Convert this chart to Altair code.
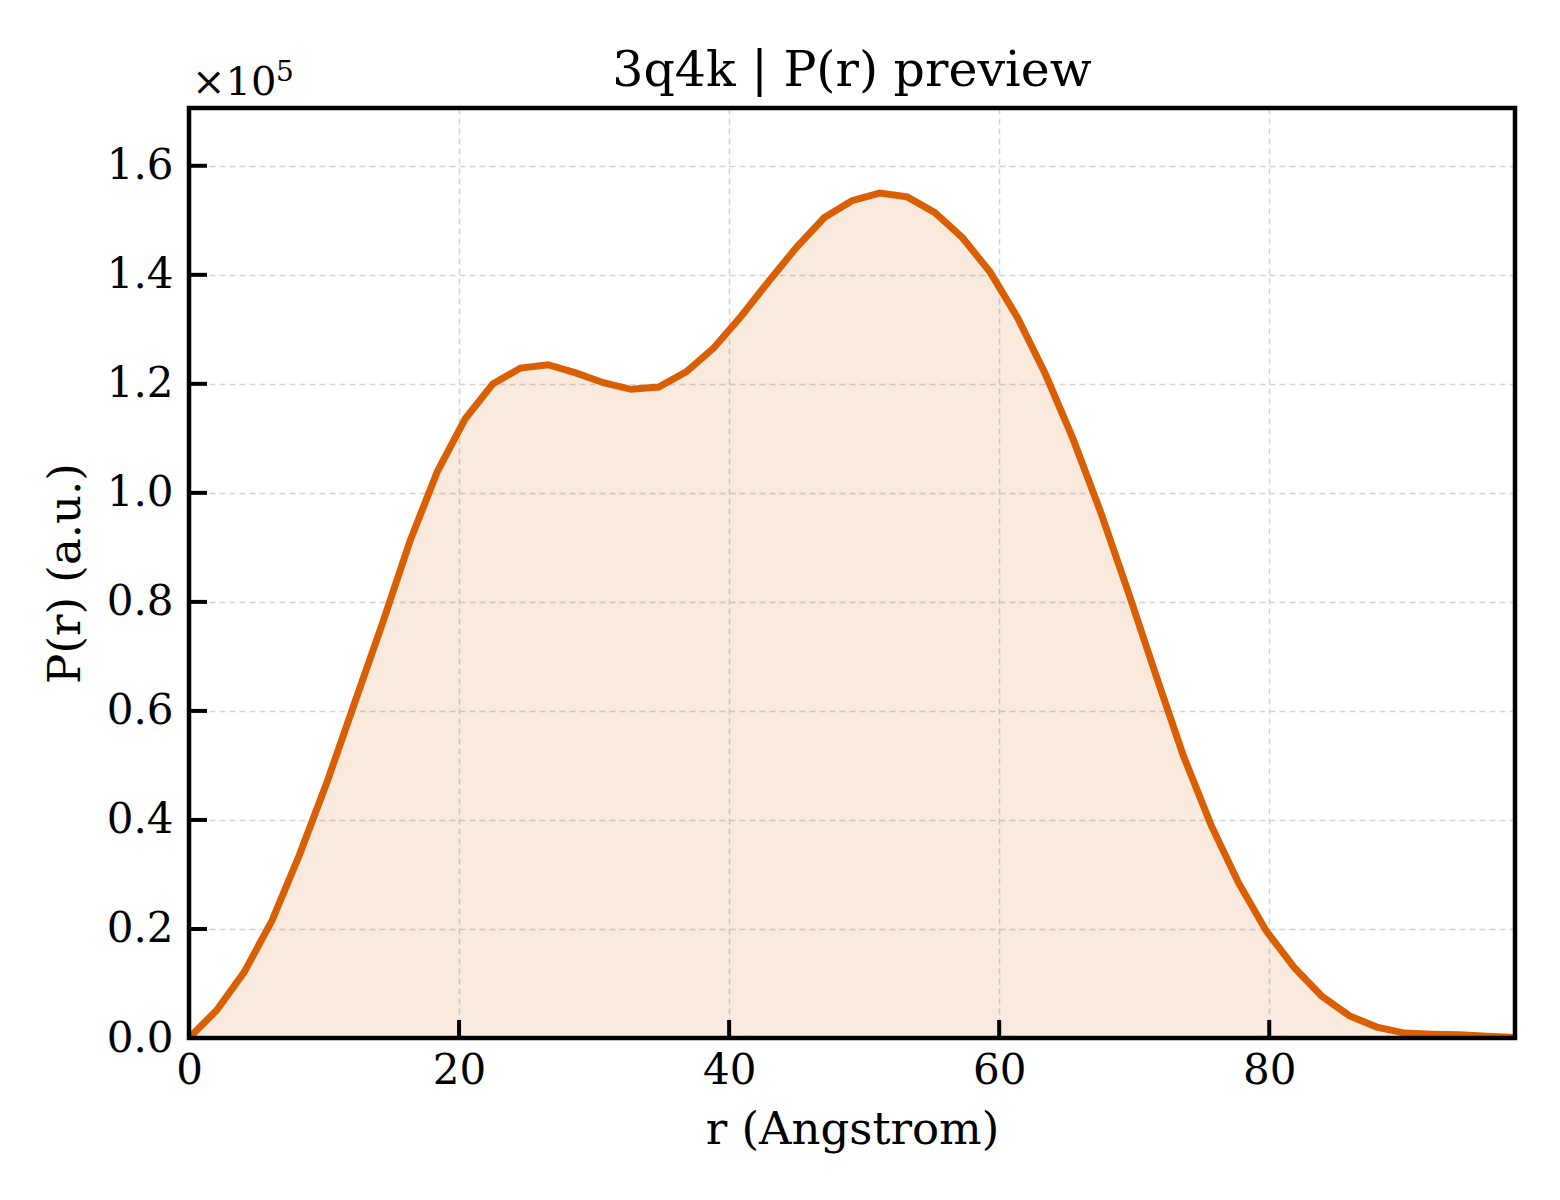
import altair as alt
import pandas as pd

# r (Angstrom)
r_values = [0.0, 2.05, 4.09, 6.14, 8.18, 10.23, 12.27, 14.32, 16.37, 18.41,
            20.46, 22.50, 24.55, 26.60, 28.64, 30.69, 32.73, 34.78, 36.82, 38.87,
            40.92, 42.96, 45.01, 47.05, 49.10, 51.15, 53.19, 55.24, 57.28, 59.33,
            61.37, 63.42, 65.47, 67.51, 69.56, 71.60, 73.65, 75.70, 77.74, 79.79,
            81.83, 83.88, 85.92, 87.97, 90.02, 92.06, 94.11, 96.15, 98.20]
# P(r) in units of 1e5
p_values = [0.0, 0.051, 0.121, 0.215, 0.336, 0.47, 0.615, 0.76, 0.912, 1.04,
            1.136, 1.2, 1.229, 1.235, 1.22, 1.202, 1.19, 1.194, 1.222, 1.266,
            1.325, 1.389, 1.451, 1.505, 1.536, 1.55, 1.543, 1.514, 1.468, 1.405,
            1.321, 1.218, 1.099, 0.965, 0.818, 0.666, 0.517, 0.39, 0.284, 0.196,
            0.13, 0.077, 0.041, 0.02, 0.009, 0.007, 0.006, 0.003, 0.001]

x_ticks = [0, 20, 40, 60, 80]
y_ticks = [0.0, 0.2, 0.4, 0.6, 0.8, 1.0, 1.2, 1.4, 1.6]

title_text = "3q4k | P(r) preview"
x_title = "r (Angstrom)"
y_title = "P(r) (a.u.)"

X_DOMAIN = [0, 98.2]
Y_DOMAIN = [0, 1.706]
W, H = 1326, 930
FONT = "DejaVu Serif"
LINE_COLOR = "#d95f02"

df = pd.DataFrame({"r": r_values, "p": p_values})
xt = pd.DataFrame({"r": x_ticks})
yt = pd.DataFrame({"p": y_ticks})

xscale = alt.Scale(domain=X_DOMAIN, nice=False, zero=False)
yscale = alt.Scale(domain=Y_DOMAIN, nice=False, zero=False)

x_axis = alt.Axis(values=x_ticks, format="d", ticks=False, domain=False,
                  labelFlush=False, labelOverlap=False,
                  grid=True, gridColor="#d4d4d4", gridDash=[6, 4], gridWidth=1.5,
                  labelFont=FONT, labelFontSize=42, labelColor="black",
                  labelPadding=12, title=x_title, titleFont=FONT,
                  titleFontSize=45, titleFontWeight="normal", titleColor="black",
                  titlePadding=16)
y_axis = alt.Axis(values=y_ticks, format=".1f", ticks=False, domain=False,
                  labelFlush=False, labelOverlap=False,
                  grid=True, gridColor="#d4d4d4", gridDash=[6, 4], gridWidth=1.5,
                  labelFont=FONT, labelFontSize=42, labelColor="black",
                  labelPadding=16, title=y_title, titleFont=FONT,
                  titleFontSize=45, titleFontWeight="normal", titleColor="black",
                  titlePadding=18)

X = alt.X("r:Q", scale=xscale, axis=x_axis)
Y = alt.Y("p:Q", scale=yscale, axis=y_axis)

base = alt.Chart(df)
area = base.mark_area(color=LINE_COLOR, opacity=0.13, clip=True).encode(x=X, y=Y)
line = base.mark_line(color=LINE_COLOR, strokeWidth=7, clip=True).encode(x=X, y=Y)

# plot frame drawn on top of the grid
frame = alt.Chart(pd.DataFrame({"f": [0]})).mark_rect(
    fill=None, stroke="black", strokeWidth=4.5
).encode(x=alt.value(0), x2=alt.value(W), y=alt.value(0), y2=alt.value(H))

# inward tick marks through the same scales
yticks = alt.Chart(yt).mark_tick(color="black", thickness=4, size=18,
                                 orient="horizontal", opacity=1).encode(
    y=Y, x=alt.value(9),
)
xticks = alt.Chart(xt).mark_tick(color="black", thickness=4, size=18,
                                 orient="vertical", opacity=1).encode(
    x=X, y=alt.value(H - 9),
)

mult = alt.Chart(pd.DataFrame({"t": ["×10"]})).mark_text(
    font=FONT, fontSize=40, align="left", baseline="alphabetic", color="black"
).encode(x=alt.value(3), y=alt.value(-13), text="t:N")
sup = alt.Chart(pd.DataFrame({"t": ["5"]})).mark_text(
    font=FONT, fontSize=28, align="left", baseline="alphabetic", color="black"
).encode(x=alt.value(87), y=alt.value(-27), text="t:N")
ttl = alt.Chart(pd.DataFrame({"t": [title_text]})).mark_text(
    font=FONT, fontSize=49, align="center", baseline="alphabetic", color="black"
).encode(x=alt.value(W / 2), y=alt.value(-22), text="t:N")

chart = alt.layer(area, line, frame, yticks, xticks, mult, sup, ttl).properties(
    width=W, height=H, background="white",
    padding={"left": 181, "top": 100, "right": 37, "bottom": 154},
    autosize=alt.AutoSizeParams(type="none"),
).configure_view(stroke=None)

chart.save("out.html", embed_options={"renderer": "svg", "actions": False})
